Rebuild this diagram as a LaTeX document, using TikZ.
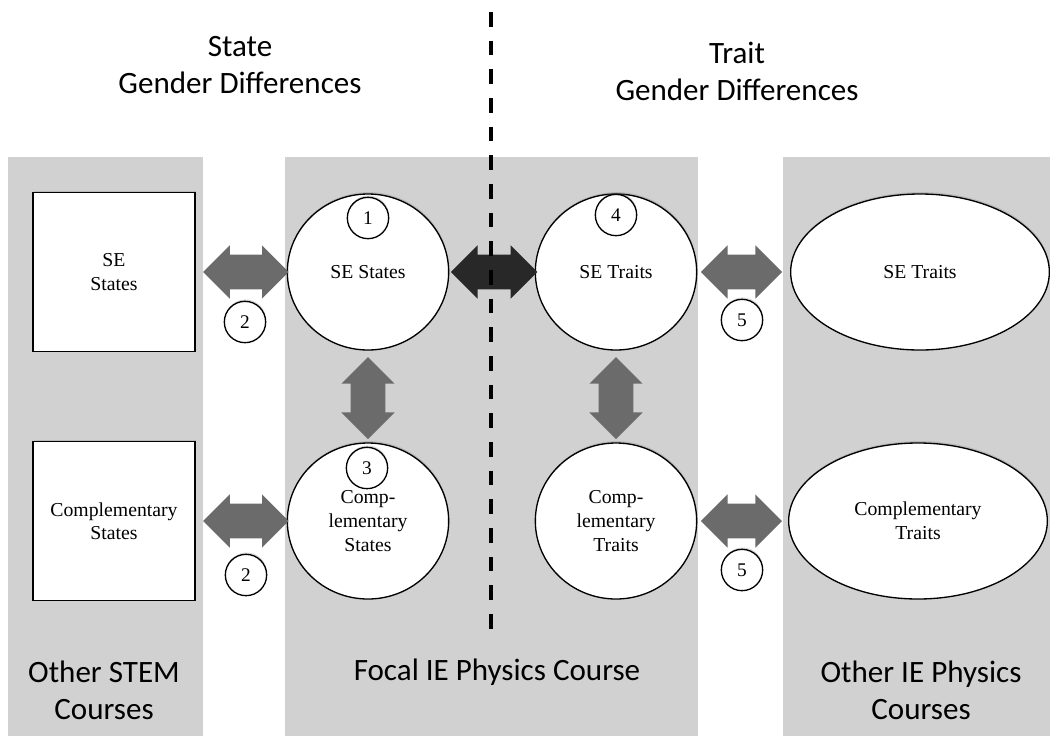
\documentclass[tikz,border=0pt]{standalone}
\usepackage{fontspec}
\setmainfont{Liberation Serif}
\newfontfamily\calibfont{Carlito}
\usetikzlibrary{calc,shapes.geometric,shadows}
\definecolor{bandgrey}{RGB}{209,209,209}
\definecolor{arrowgrey}{RGB}{107,107,107}
\definecolor{arrowdark}{RGB}{40,40,40}
\tikzset{
	band/.style={fill=bandgrey},
	heading/.style={font=\calibfont\fontsize{23.3}{27.8}\selectfont, align=center, inner sep=0pt},
	softshade/.style={drop shadow={shadow xshift=0.4pt, shadow yshift=1.4pt, opacity=0.3}},
	statebox/.style={draw, line width=1pt, fill=white, softshade, minimum width=121.5pt, minimum height=119pt, inner sep=0pt, align=center, font=\fontsize{14.8}{17.5}\selectfont},
	ball/.style={ellipse, draw, line width=1pt, fill=white, softshade, minimum width=121pt, minimum height=117pt, inner sep=0pt, align=center, font=\fontsize{14.8}{18}\selectfont},
	oval/.style={ball, minimum width=194pt},
	num/.style={circle, draw, line width=1pt, fill=white, softshade, minimum size=31pt, inner sep=0pt, font=\fontsize{14.5}{16}\selectfont},
	% block arrow, #1 and #2 = gap at start and end
	fat/.style 2 args={fill=arrowgrey, to path={
		($(\tikztostart)!#1!(\tikztotarget)$) coordinate (fa)
		($(\tikztotarget)!#2!(\tikztostart)$) coordinate (fb)
		($(fa)!20pt!(fb)$) coordinate (ha)
		($(fb)!20pt!(fa)$) coordinate (hb)
		(fa) -- ($(ha)!20pt!90:(fb)$) -- ($(ha)!13pt!90:(fb)$) -- ($(hb)!13pt!-90:(fa)$) -- ($(hb)!20pt!-90:(fa)$)
		-- (fb) -- ($(hb)!20pt!90:(fa)$) -- ($(hb)!13pt!90:(fa)$) -- ($(ha)!13pt!-90:(fb)$) -- ($(ha)!20pt!-90:(fb)$) -- cycle}},
	fatdark/.style 2 args={fat={#1}{#2}, fill=arrowdark},
	divider/.style={line width=3.6pt, dash pattern=on 11pt off 10.5pt}
}
\begin{document}
\begin{tikzpicture}[x=0.75pt,y=0.75pt,yscale=-1,xscale=1]
	\useasboundingbox (0,0) rectangle (1050,736);
	% course bands
	\fill[band] (8,157) rectangle (203,736);
	\fill[band] (285,157) rectangle (698,736);
	\fill[band] (783,157) rectangle (1050,736);
	\node[heading] (hdState) at (240,65) {State\\Gender Differences};
	\node[heading] (hdTrait) at (737,71) {Trait\\Gender Differences};
	\node[heading] (ftLeft) at (104,690) {Other STEM\\Courses};
	\node[heading] (ftMid) at (497,672) {Focal IE Physics Course};
	\node[heading] (ftRight) at (921,690) {Other IE Physics\\Courses};
	% constructs
	\node[statebox] (boxSE) at (114,272) {SE\\States};
	\node[statebox] (boxComp) at (114,521) {Complementary\\States};
	\node[ball] (stSE) at (368,272) {SE States};
	\node[ball] (stComp) at (368,521) {Comp-\\lementary\\States};
	\node[ball] (trSE) at (616,272) {SE Traits};
	\node[ball] (trComp) at (616,521) {Comp-\\lementary\\Traits};
	\node[oval] (otSE) at (920,272) {SE Traits};
	\node[oval] (otComp) at (918,521) {Complementary\\Traits};
	% links
	\fill[fat={5.6pt}{-1.5pt}] (boxSE.east) to (stSE.west);
	\fill[fat={5.6pt}{-1.5pt}] (boxComp.east) to (stComp.west);
	\fill[fatdark={1.2pt}{-2pt}] (stSE.east) to (trSE.west);
	\fill[fat={2.7pt}{6pt}] (trSE.east) to (otSE.west);
	\fill[fat={2.7pt}{4.5pt}] (trComp.east) to (otComp.west);
	\fill[fat={4.8pt}{2.5pt}] (stSE.south) to (stComp.north);
	\fill[fat={4.8pt}{2.5pt}] (trSE.south) to (trComp.north);
	\coordinate (divTop) at (491,12);
	\coordinate (divBot) at (491,638);
	\draw[divider] (divTop) -- (divBot);
	% hypotheses
	\node[num] (n1) at (368,218) {1};
	\node[num] (n2a) at (245,322) {2};
	\node[num] (n2b) at (246,575) {2};
	\node[num] (n3) at (367,468) {3};
	\node[num] (n4) at (616,215) {4};
	\node[num] (n5a) at (742,320) {5};
	\node[num] (n5b) at (742,570) {5};
\end{tikzpicture}
\end{document}
